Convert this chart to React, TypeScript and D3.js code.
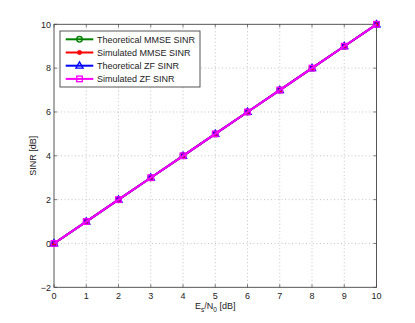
import React from "react";
import * as d3 from "d3";

const xVals = [0, 1, 2, 3, 4, 5, 6, 7, 8, 9, 10];
const theoMMSE = [0, 1, 2, 3, 4, 5, 6, 7, 8, 9, 10];
const simMMSE = [0, 1, 2, 3, 4, 5, 6, 7, 8, 9, 10];
const theoZF = [0, 1, 2, 3, 4, 5, 6, 7, 8, 9, 10];
const simZF = [0, 1, 2, 3, 4, 5, 6, 7, 8, 9, 10];
const xTicks = [0, 1, 2, 3, 4, 5, 6, 7, 8, 9, 10];
const yTicks = [-2, 0, 2, 4, 6, 8, 10];
const legendLabels = ["Theoretical MMSE SINR", "Simulated MMSE SINR", "Theoretical ZF SINR", "Simulated ZF SINR"];
const colors = ["#008000", "#ff0000", "#0000ff", "#ff00ff"];
const markers = ["circle", "dot", "triangle", "square"];

const W = 415, H = 323;
const L = 54, R = 376.5, T = 24.3, B = 287.3;

function Marker({ type, x, y, color }: { type: string; x: number; y: number; color: string }) {
  if (type === "circle") return <circle cx={x} cy={y} r={2.8} fill="none" stroke={color} strokeWidth={1.3} />;
  if (type === "dot") return <circle cx={x} cy={y} r={2.2} fill={color} stroke={color} strokeWidth={0.5} />;
  if (type === "triangle")
    return <path d={`M${x},${y - 3.8}L${x + 3.6},${y + 2.5}L${x - 3.6},${y + 2.5}Z`} fill="none" stroke={color} strokeWidth={1.3} />;
  return <rect x={x - 2.8} y={y - 2.8} width={5.6} height={5.6} fill="none" stroke={color} strokeWidth={1.3} />;
}

export default function App() {
  const x = d3.scaleLinear().domain([0, 10]).range([L, R]);
  const y = d3.scaleLinear().domain([-2, 10]).range([B, T]);
  const series = [theoMMSE, simMMSE, theoZF, simZF];
  const line = d3.line<number>().x((_, i) => x(xVals[i])).y((d) => y(d));
  const font = "Liberation Sans, Arial, sans-serif";
  const axisColor = "#444";
  const fs = 9;
  return (
    <svg width={W} height={H} style={{ position: "absolute", left: 0, top: 0, background: "#fff" }} fontFamily={font}>
      <rect x={0} y={0} width={W} height={H} fill="#fff" />
      <rect x={L} y={T} width={R - L} height={B - T} fill="#fff" />
      {/* grid */}
      {xTicks.slice(1, -1).map((t) => (
        <line key={"gx" + t} x1={x(t)} x2={x(t)} y1={T} y2={B} stroke="#aaa" strokeWidth={0.7} strokeDasharray="1,2.5" />
      ))}
      {yTicks.slice(1, -1).map((t) => (
        <line key={"gy" + t} x1={L} x2={R} y1={y(t)} y2={y(t)} stroke="#aaa" strokeWidth={0.7} strokeDasharray="1,2.5" />
      ))}
      {/* ticks */}
      {xTicks.map((t) => (
        <g key={"tx" + t}>
          <line x1={x(t)} x2={x(t)} y1={B} y2={B - 3} stroke={axisColor} strokeWidth={0.7} />
          <line x1={x(t)} x2={x(t)} y1={T} y2={T + 3} stroke={axisColor} strokeWidth={0.7} />
          <text x={x(t)} y={B + 12} fontSize={fs} textAnchor="middle" fill="#222">{t}</text>
        </g>
      ))}
      {yTicks.map((t) => (
        <g key={"ty" + t}>
          <line x1={L} x2={L + 3} y1={y(t)} y2={y(t)} stroke={axisColor} strokeWidth={0.7} />
          <line x1={R} x2={R - 3} y1={y(t)} y2={y(t)} stroke={axisColor} strokeWidth={0.7} />
          <text x={L - 3} y={y(t) + 3.2} fontSize={fs} textAnchor="end" fill="#222">{t < 0 ? "\u2212" + Math.abs(t) : t}</text>
        </g>
      ))}
      <rect x={L} y={T} width={R - L} height={B - T} fill="none" stroke={axisColor} strokeWidth={0.9} />
      {/* series */}
      {series.map((s, k) => (
        <g key={"s" + k}>
          <path d={line(s) || ""} fill="none" stroke={colors[k]} strokeWidth={2} />
          {s.map((v, i) => (
            <Marker key={i} type={markers[k]} x={x(xVals[i])} y={y(v)} color={colors[k]} />
          ))}
        </g>
      ))}
      {/* legend */}
      <rect x={60} y={31} width={140} height={56} fill="#fff" stroke={axisColor} strokeWidth={0.9} />
      {legendLabels.map((lab, k) => {
        const ly = 39.3 + k * 13.2;
        return (
          <g key={"l" + k}>
            <line x1={65.7} x2={93.3} y1={ly} y2={ly} stroke={colors[k]} strokeWidth={2} />
            <Marker type={markers[k]} x={79.5} y={ly} color={colors[k]} />
            <text x={97} y={ly + 3.2} fontSize={fs} fill="#222">{lab}</text>
          </g>
        );
      })}
      {/* axis labels */}
      <text x={(L + R) / 2} y={309} fontSize={fs} textAnchor="middle" fill="#222">
        E<tspan fontSize={6.5} dy={2.5}>s</tspan><tspan dy={-2.5}>/N</tspan><tspan fontSize={6.5} dy={2.5}>0</tspan><tspan dy={-2.5}> [dB]</tspan>
      </text>
      <text transform={`translate(36,${(T + B) / 2}) rotate(-90)`} fontSize={fs} textAnchor="middle" fill="#222">SINR [dB]</text>
    </svg>
  );
}
